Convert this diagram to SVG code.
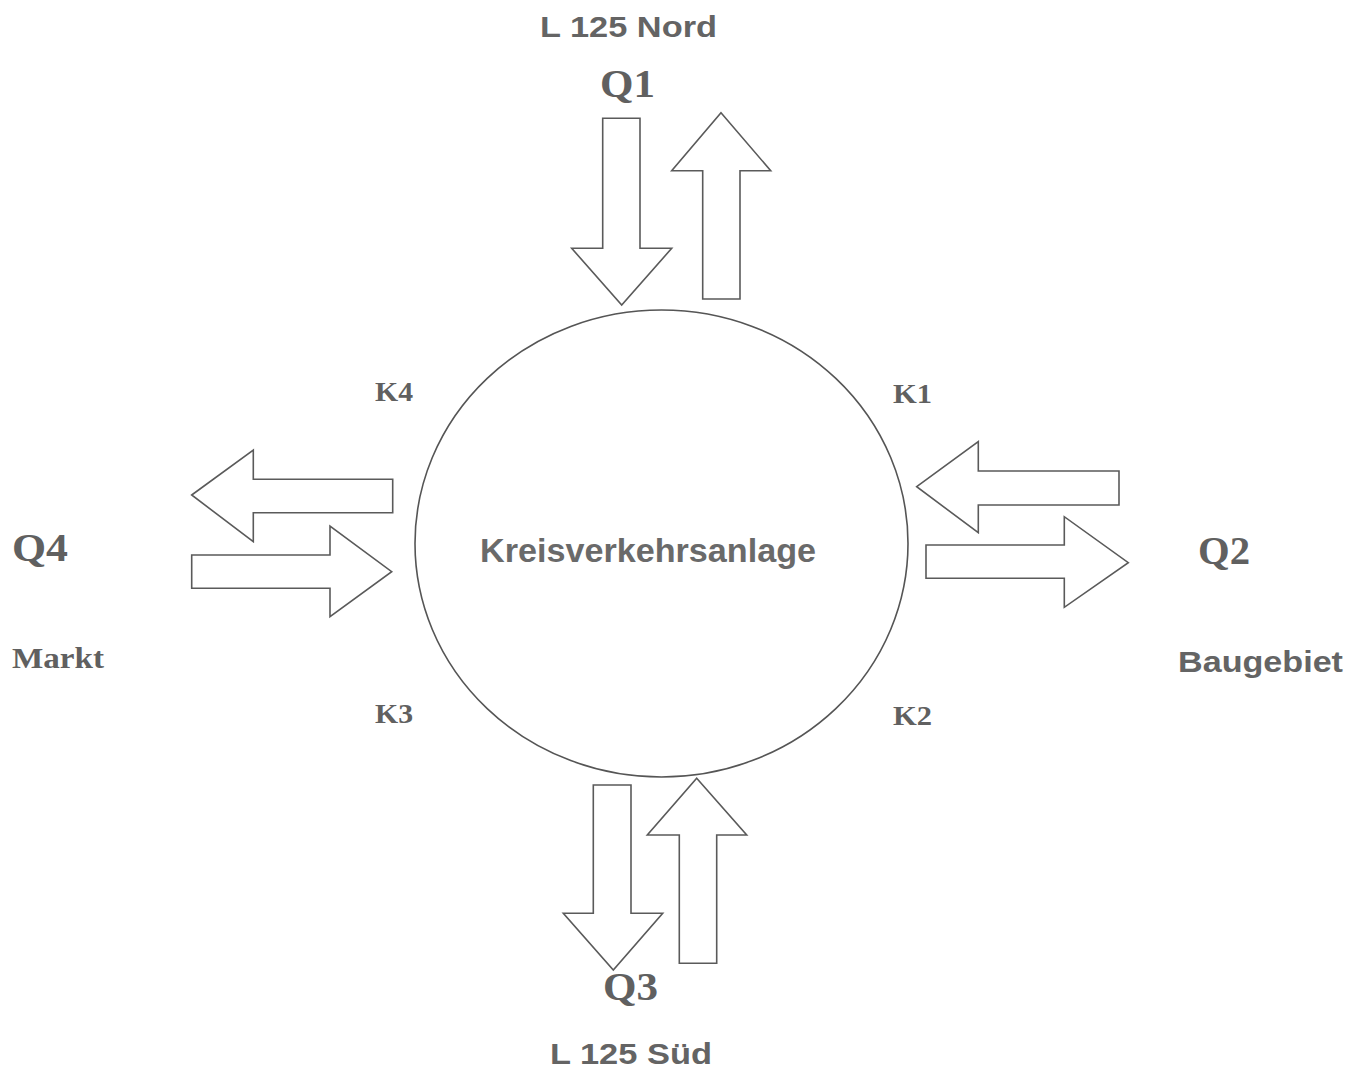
<svg xmlns="http://www.w3.org/2000/svg" width="1364" height="1075" viewBox="0 0 1364 1075">
  <style>
    .arrow { fill: #ffffff; stroke: #5a5a5a; stroke-width: 1.6; stroke-linejoin: miter; }
    .ring { fill: #ffffff; stroke: #555555; stroke-width: 1.6; }
    .sans { font-family: "Liberation Sans", Arial, sans-serif; font-weight: bold; font-size: 30px; fill: #646464; }
    .title { font-size: 33px; fill: #6a6a6a; }
    .serif { font-family: "Liberation Serif", "Times New Roman", serif; font-weight: bold; fill: #606060; }
    .q { font-size: 40px; }
    .k { font-size: 28px; }
    .place { font-size: 30px; }
  </style>
  <rect width="1364" height="1075" fill="#ffffff"/>

  <!-- Roundabout -->
  <g id="kreisverkehr">
    <ellipse class="ring" cx="661.5" cy="543.5" rx="246.5" ry="233.5"/>
    <text class="sans title" x="480" y="562" textLength="336" lengthAdjust="spacingAndGlyphs">Kreisverkehrsanlage</text>
  </g>

  <!-- Traffic flows in and out of each arm -->
  <g id="connectors">
    <!-- Q1 north: in (down), out (up) -->
    <polygon class="arrow" points="602.7,118.3 640,118.3 640,248.3 671.7,248.3 621.7,305 571.7,248.3 602.7,248.3"/>
    <polygon class="arrow" points="721,112.7 770.7,170.7 740,170.7 740,299 702.7,299 702.7,170.7 671.7,170.7"/>
    <!-- Q2 east: in (left), out (right) -->
    <polygon class="arrow" points="916.7,486.7 978.3,441.7 978.3,471 1119,471 1119,505 978.3,505 978.3,532.7"/>
    <polygon class="arrow" points="926,545 1064.3,545 1064.3,516.7 1128.3,562.7 1064.3,607.3 1064.3,578.3 926,578.3"/>
    <!-- Q3 south: out (down), in (up) -->
    <polygon class="arrow" points="593.3,785 631,785 631,913.3 662.7,913.3 613.3,970 563.3,913.3 593.3,913.3"/>
    <polygon class="arrow" points="696.7,778.3 746.7,835 716.7,835 716.7,963.3 679.3,963.3 679.3,835 647.3,835"/>
    <!-- Q4 west: out (left), in (right) -->
    <polygon class="arrow" points="191.7,495 253.3,450 253.3,479.3 392.7,479.3 392.7,512.7 253.3,512.7 253.3,541.7"/>
    <polygon class="arrow" points="191.7,555 330,555 330,526 391.7,571.7 330,616.7 330,588.3 191.7,588.3"/>
  </g>

  <!-- Arm labels -->
  <g id="q1">
    <text class="sans" x="540" y="37" textLength="177" lengthAdjust="spacingAndGlyphs">L 125 Nord</text>
    <text class="serif q" x="600" y="97" textLength="55" lengthAdjust="spacingAndGlyphs">Q1</text>
  </g>
  <g id="q2">
    <text class="serif q" x="1198" y="564" textLength="52" lengthAdjust="spacingAndGlyphs">Q2</text>
    <text class="sans" x="1178" y="672" textLength="165" lengthAdjust="spacingAndGlyphs">Baugebiet</text>
  </g>
  <g id="q3">
    <text class="serif q" x="603" y="1000" textLength="55" lengthAdjust="spacingAndGlyphs">Q3</text>
    <text class="sans" x="550" y="1064" textLength="162" lengthAdjust="spacingAndGlyphs">L 125 Süd</text>
  </g>
  <g id="q4">
    <text class="serif q" x="12" y="561" textLength="56" lengthAdjust="spacingAndGlyphs">Q4</text>
    <text class="serif place" x="12" y="668" textLength="92" lengthAdjust="spacingAndGlyphs">Markt</text>
  </g>

  <!-- Entry/exit points -->
  <g id="k1"><text class="serif k" x="893" y="403" textLength="39" lengthAdjust="spacingAndGlyphs">K1</text></g>
  <g id="k2"><text class="serif k" x="893" y="725" textLength="39" lengthAdjust="spacingAndGlyphs">K2</text></g>
  <g id="k3"><text class="serif k" x="375" y="723" textLength="38" lengthAdjust="spacingAndGlyphs">K3</text></g>
  <g id="k4"><text class="serif k" x="375" y="401" textLength="38" lengthAdjust="spacingAndGlyphs">K4</text></g>
</svg>
